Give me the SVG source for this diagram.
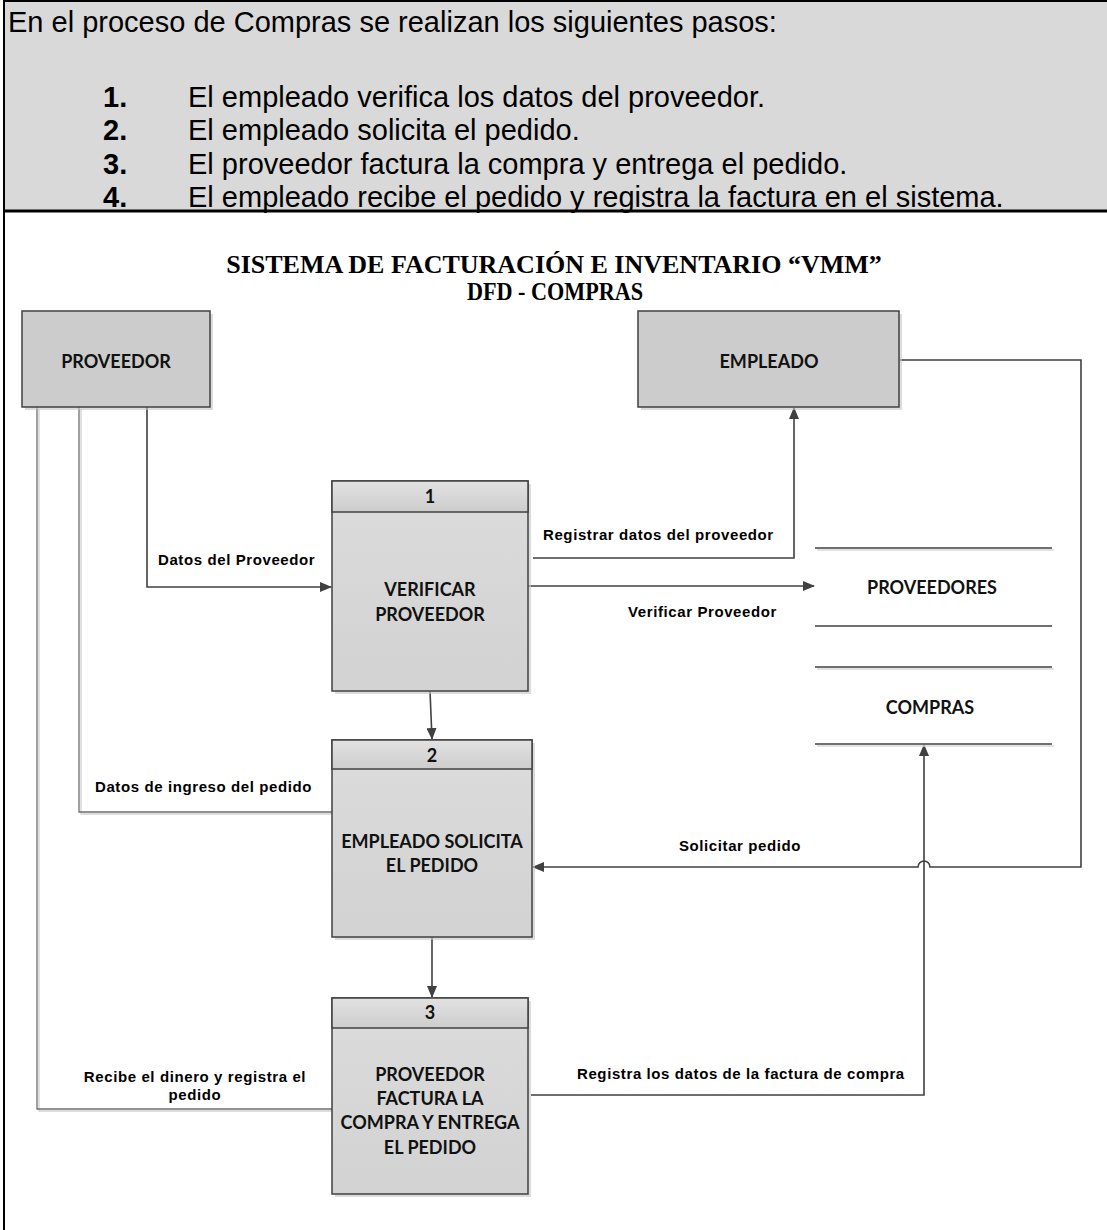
<svg xmlns="http://www.w3.org/2000/svg" width="1107" height="1230" viewBox="0 0 1107 1230">
<defs>
<marker id="arr" markerWidth="12" markerHeight="10" refX="11" refY="5" orient="auto" markerUnits="userSpaceOnUse">
<path d="M0,0 L12,5 L0,10 Z" fill="#404040"/>
</marker>
<linearGradient id="hdr" x1="0" y1="0" x2="0" y2="1">
<stop offset="0" stop-color="#e2e2e2"/>
<stop offset="1" stop-color="#cdcdcd"/>
</linearGradient>
<linearGradient id="body" x1="0" y1="0" x2="0" y2="1">
<stop offset="0" stop-color="#dcdcdc"/>
<stop offset="1" stop-color="#d2d2d2"/>
</linearGradient>
</defs>
<style>
.hd{font-family:"Liberation Sans",Arial,sans-serif;font-size:29px;fill:#000}
.hdb{font-family:"Liberation Sans",Arial,sans-serif;font-size:29px;font-weight:bold;fill:#000}
.ttl{font-family:"Liberation Serif","Times New Roman",serif;font-size:26px;font-weight:bold;fill:#000;text-anchor:middle}
.nl{font-family:Lato,"Open Sans",sans-serif;font-size:18px;font-weight:bold;fill:#111;text-anchor:middle}
.lb{font-family:"Liberation Sans",Arial,sans-serif;font-size:15px;font-weight:bold;fill:#000;letter-spacing:0.6px}
.ent{fill:#cccccc;stroke:#404040;stroke-width:1.5}
.shd{fill:#c4c4c4;opacity:0.6}
.proc{fill:url(#body);stroke:#404040;stroke-width:1.5}
.ph{fill:url(#hdr);stroke:#404040;stroke-width:1.5}
.fl{fill:none;stroke:#404040;stroke-width:1.6}
.fg{fill:none;stroke:#6e6e6e;stroke-width:1.3}
.fs{fill:none;stroke:#d2d2d2;stroke-width:1.3}
.ds{stroke:#404040;stroke-width:1.5}
.dss{stroke:#d8d8d8;stroke-width:1.5}
</style>

<g id="header">
<rect x="4" y="1" width="1110" height="210" fill="#d9d9d9" stroke="#000" stroke-width="2"/>
<line x1="4" y1="211" x2="1107" y2="211" stroke="#000" stroke-width="3"/>
<line x1="4" y1="0" x2="4" y2="1230" stroke="#000" stroke-width="2"/>
<text class="hd" x="8" y="32">En el proceso de Compras se realizan los siguientes pasos:</text>
<text class="hdb" x="103" y="107">1.</text>
<text class="hd" x="188" y="107">El empleado verifica los datos del proveedor.</text>
<text class="hdb" x="103" y="140">2.</text>
<text class="hd" x="188" y="140">El empleado solicita el pedido.</text>
<text class="hdb" x="103" y="174">3.</text>
<text class="hd" x="188" y="174">El proveedor factura la compra y entrega el pedido.</text>
<text class="hdb" x="103" y="207">4.</text>
<text class="hd" x="188" y="207">El empleado recibe el pedido y registra la factura en el sistema.</text>
</g>

<g id="title">
<text class="ttl" x="554" y="273">SISTEMA DE FACTURACIÓN E INVENTARIO “VMM”</text>
<text class="ttl" x="555" y="300" textLength="176" lengthAdjust="spacingAndGlyphs">DFD - COMPRAS</text>
</g>

<g id="connectors">
<path class="fs" d="M39,409 V1111 H332"/>
<path class="fg" d="M37,407 V1109 H332"/>
<path class="fs" d="M81,409 V814 H332"/>
<path class="fg" d="M79,407 V812 H332"/>
<path class="fl" d="M147,407 V587 H331" marker-end="url(#arr)"/>
<path class="fl" d="M533,558 H794 V408" marker-end="url(#arr)"/>
<path class="fl" d="M528,586 H814" marker-end="url(#arr)"/>
<path class="fl" d="M430,691 L432,739" marker-end="url(#arr)"/>
<path class="fl" d="M899,360 H1081 V867 H930 A6,6 0 0 0 918,867 H533" marker-end="url(#arr)"/>
<path class="fl" d="M432,937 V997" marker-end="url(#arr)"/>
<path class="fl" d="M531,1095 H924 V745" marker-end="url(#arr)"/>
<text class="lb" x="158" y="565">Datos del Proveedor</text>
<text class="lb" x="95" y="792">Datos de ingreso del pedido</text>
<text class="lb" x="195" y="1082" text-anchor="middle">Recibe el dinero y registra el</text>
<text class="lb" x="195" y="1100" text-anchor="middle">pedido</text>
<text class="lb" x="543" y="540">Registrar datos del proveedor</text>
<text class="lb" x="628" y="617">Verificar Proveedor</text>
<text class="lb" x="740" y="851" text-anchor="middle">Solicitar pedido</text>
<text class="lb" x="577" y="1079">Registra los datos de la factura de compra</text>
</g>

<g id="proveedor">
<rect class="shd" x="25" y="314" width="188" height="96"/>
<rect class="ent" x="22" y="311" width="188" height="96"/>
<text class="nl" x="116" y="368">PROVEEDOR</text>
</g>

<g id="empleado">
<rect class="shd" x="641" y="314" width="261" height="96"/>
<rect class="ent" x="638" y="311" width="261" height="96"/>
<text class="nl" x="769" y="368">EMPLEADO</text>
</g>

<g id="p1">
<rect class="shd" x="335" y="484" width="196" height="210"/>
<rect class="proc" x="332" y="481" width="196" height="210"/>
<rect class="ph" x="332" y="481" width="196" height="31"/>
<text class="nl" x="430" y="503">1</text>
<text class="nl" x="430" y="596">VERIFICAR</text>
<text class="nl" x="430" y="621">PROVEEDOR</text>
</g>

<g id="p2">
<rect class="shd" x="335" y="743" width="200" height="197"/>
<rect class="proc" x="332" y="740" width="200" height="197"/>
<rect class="ph" x="332" y="740" width="200" height="29"/>
<text class="nl" x="432" y="762">2</text>
<text class="nl" x="432" y="848">EMPLEADO SOLICITA</text>
<text class="nl" x="432" y="872">EL PEDIDO</text>
</g>

<g id="p3">
<rect class="shd" x="335" y="1001" width="196" height="196"/>
<rect class="proc" x="332" y="998" width="196" height="196"/>
<rect class="ph" x="332" y="998" width="196" height="30"/>
<text class="nl" x="430" y="1019">3</text>
<text class="nl" x="430" y="1081">PROVEEDOR</text>
<text class="nl" x="430" y="1105">FACTURA LA</text>
<text class="nl" x="430" y="1129">COMPRA Y ENTREGA</text>
<text class="nl" x="430" y="1154">EL PEDIDO</text>
</g>

<g id="proveedores">
<line class="dss" x1="817" y1="550" x2="1054" y2="550"/>
<line class="ds" x1="815" y1="548" x2="1052" y2="548"/>
<line class="ds" x1="815" y1="626" x2="1052" y2="626"/>
<text class="nl" x="932" y="594">PROVEEDORES</text>
</g>

<g id="compras">
<line class="dss" x1="817" y1="669" x2="1054" y2="669"/>
<line class="ds" x1="815" y1="667" x2="1052" y2="667"/>
<line class="dss" x1="817" y1="746" x2="1054" y2="746"/>
<line class="ds" x1="815" y1="744" x2="1052" y2="744"/>
<text class="nl" x="930" y="714">COMPRAS</text>
</g>
</svg>
